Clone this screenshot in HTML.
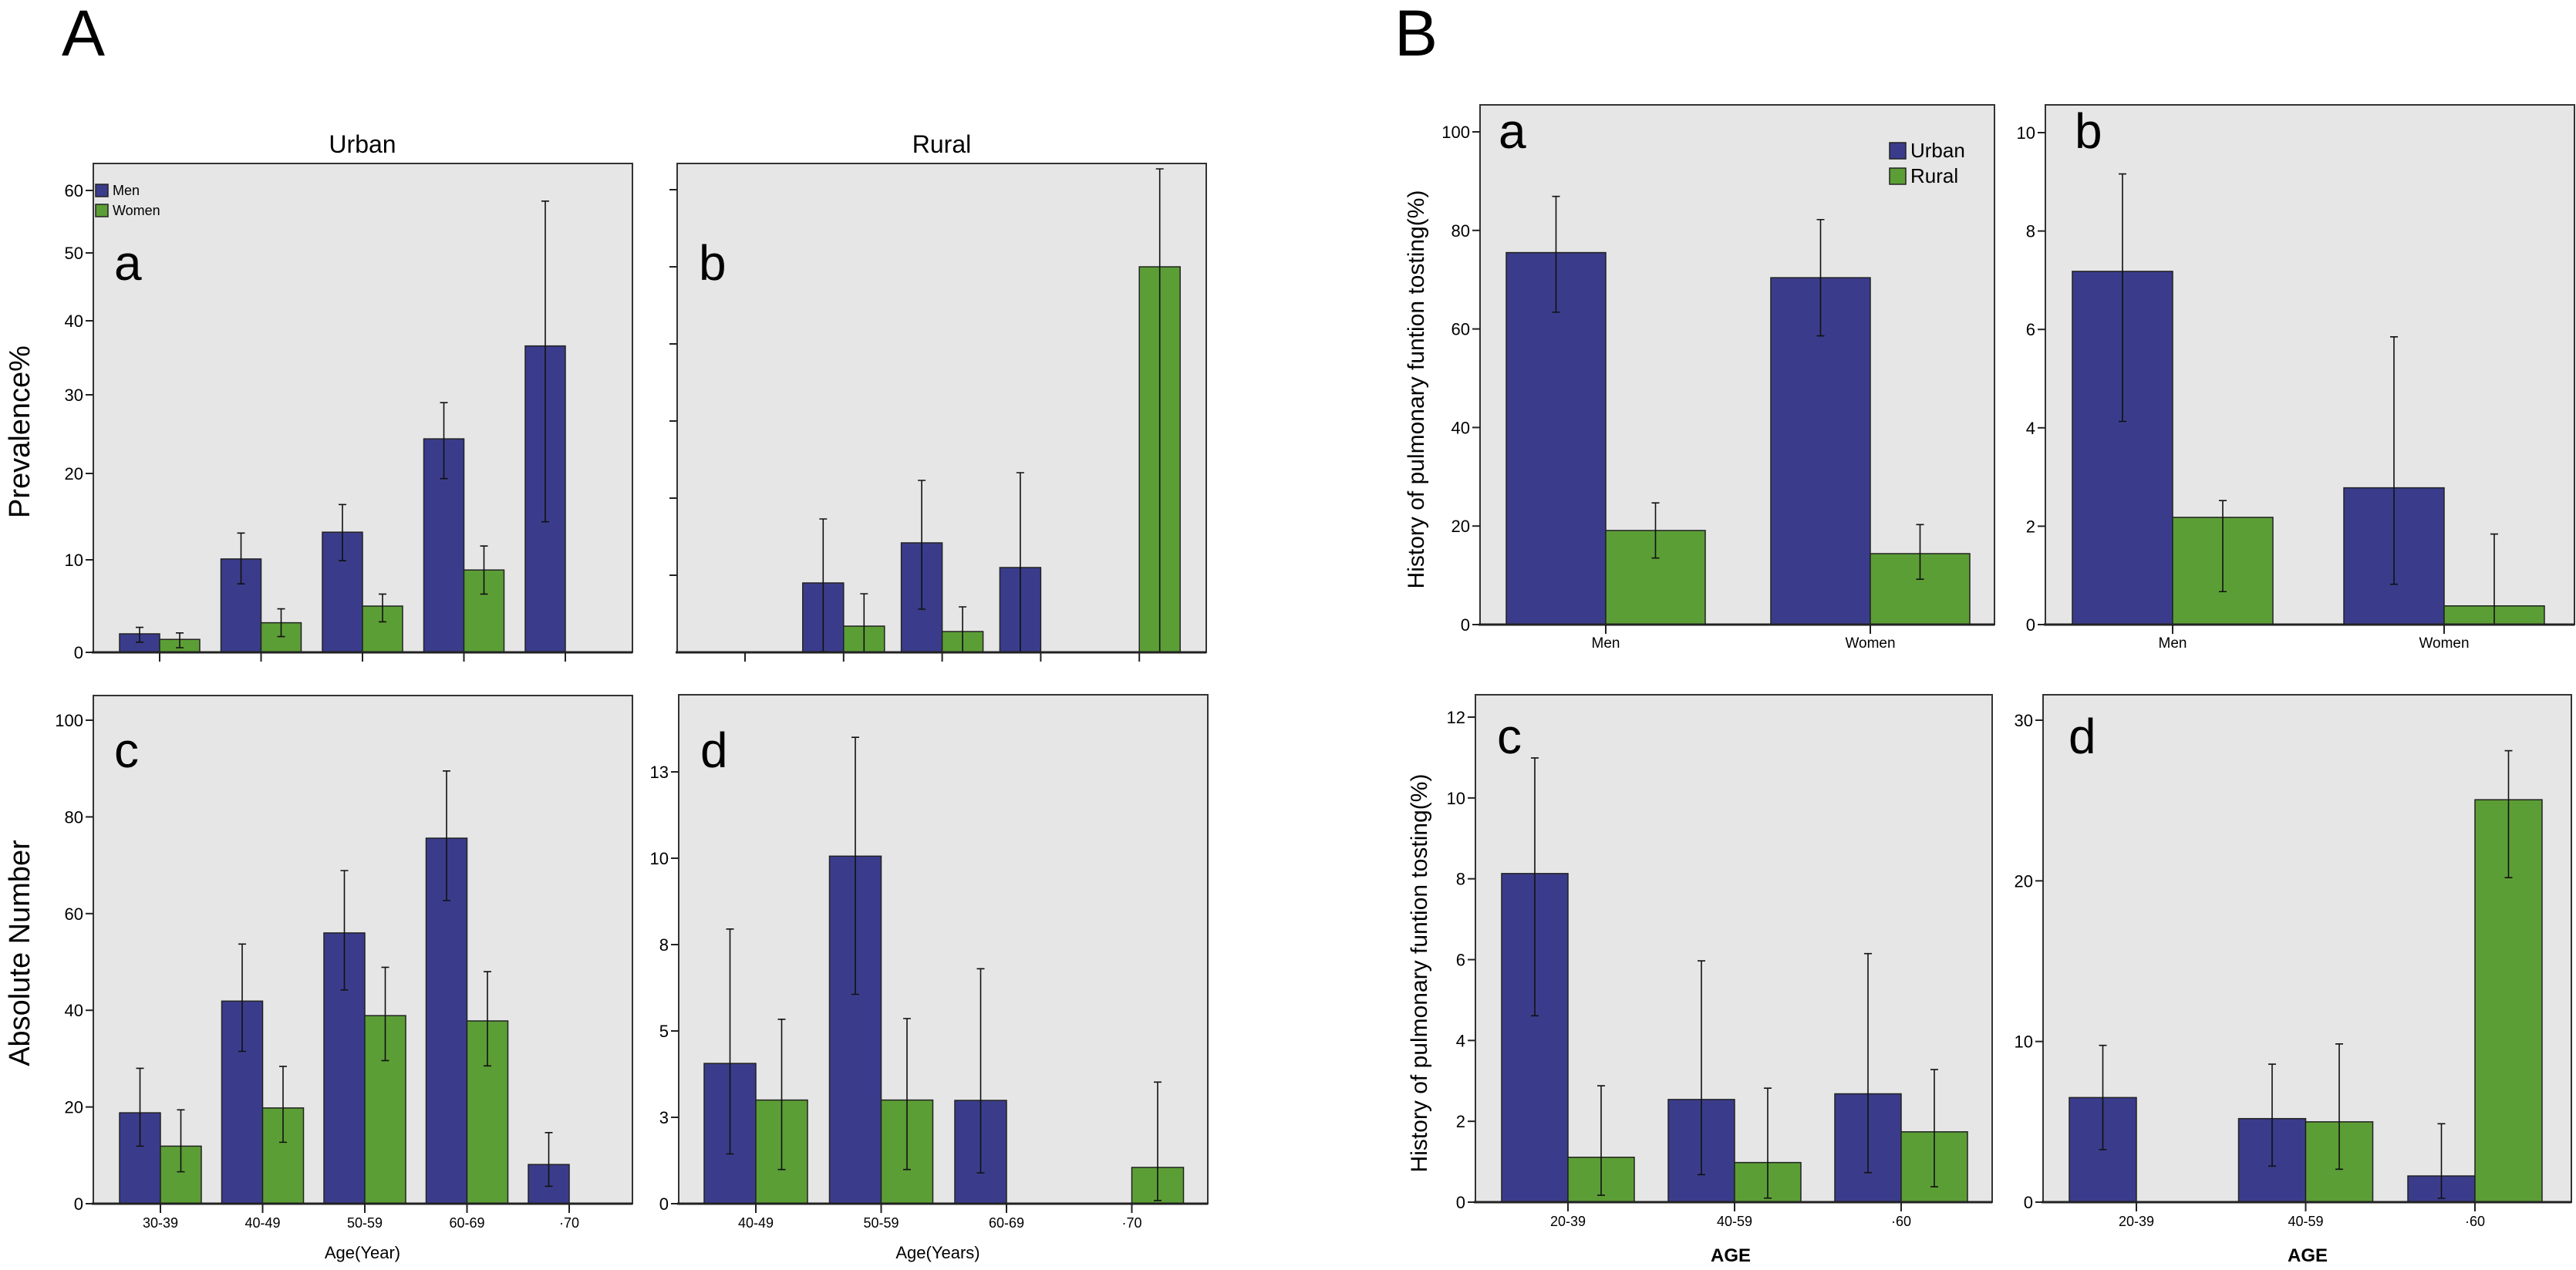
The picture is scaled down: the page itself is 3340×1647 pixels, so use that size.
<!DOCTYPE html>
<html><head><meta charset="utf-8">
<style>
html,body{margin:0;padding:0;background:#fff;}
svg{display:block;font-family:"Liberation Sans",Arial,sans-serif;}
</style></head>
<body>
<svg id="fig" width="3340" height="1647" viewBox="0 0 3340 1647" xmlns="http://www.w3.org/2000/svg">
<rect x="0" y="0" width="3340" height="1647" fill="#fff"/>
<text x="80" y="72" font-size="84">A</text>
<text x="1808" y="72" font-size="84">B</text>
<text x="470" y="198" font-size="32" text-anchor="middle">Urban</text>
<text x="1221" y="198" font-size="32" text-anchor="middle">Rural</text>
<text transform="translate(38,560) rotate(-90)" font-size="38" text-anchor="middle">Prevalence%</text>
<text transform="translate(38,1236) rotate(-90)" font-size="38" text-anchor="middle">Absolute Number</text>
<text transform="translate(1846,505) rotate(-90)" font-size="30" text-anchor="middle">History of pulmonary funtion tosting(%)</text>
<text transform="translate(1850,1262) rotate(-90)" font-size="30" text-anchor="middle">History of pulmonary funtion tosting(%)</text>
<text x="470" y="1632" font-size="22" text-anchor="middle">Age(Year)</text>
<text x="1216" y="1632" font-size="22" text-anchor="middle">Age(Years)</text>
<text x="2244" y="1636" font-size="24" font-weight="bold" text-anchor="middle">AGE</text>
<text x="2992" y="1636" font-size="24" font-weight="bold" text-anchor="middle">AGE</text>
</svg>
<script>
// ---- Panel A-a (Urban prevalence) ----
const aaCats = ["30-39","40-49","50-59","60-69","·70"];
const aaTicks = [0,10,20,30,40,50,60];
const aaTickLabels = ["0","10","20","30","40","50","60"];
const aaMen = [2.0,10.1,13.2,24.4,36.6];
const aaMenLo = [1.1,7.4,9.9,19.4,14.4];
const aaMenHi = [2.7,13.1,16.4,29.0,58.3];
const aaWomen = [1.4,3.2,5.0,8.9,null];
const aaWomenLo = [0.5,1.7,3.3,6.3,null];
const aaWomenHi = [2.1,4.7,6.3,11.6,null];
// ---- Panel A-b (Rural prevalence) ----
const abCats = ["30-39","40-49","50-59","60-69","·70"];
const abTicks = [10,20,30,40,50,60];
const abMen = [null,9.0,14.2,11.0,null];
const abMenLo = [null,0.1,5.6,0,null];
const abMenHi = [null,17.3,22.3,23.3,null];
const abWomen = [null,3.4,2.7,null,50.0];
const abWomenLo = [null,0,0,null,0];
const abWomenHi = [null,7.6,5.9,null,62.7];
// ---- Panel A-c (Urban absolute) ----
const acCats = ["30-39","40-49","50-59","60-69","·70"];
const acTicks = [0,20,40,60,80,100];
const acMen = [18.8,41.9,56,75.6,8.1];
const acMenLo = [11.9,31.5,44.2,62.7,3.6];
const acMenHi = [28,53.7,68.9,89.5,14.7];
const acWomen = [11.9,19.8,38.9,37.8,null];
const acWomenLo = [6.6,12.7,29.6,28.5,null];
const acWomenHi = [19.4,28.4,48.9,48,null];
// ---- Panel A-d (Rural absolute) ----
const adCats = ["40-49","50-59","60-69","·70"];
const adTicks = [0,2.5,5,7.5,10,12.5];
const adTickLabels = ["0","3","5","8","10","13"];
const adMen = [4.06,10.06,2.99,null];
const adMenLo = [1.44,6.06,0.89,null];
const adMenHi = [7.95,13.5,6.8,null];
const adWomen = [3.0,3.0,null,1.05];
const adWomenLo = [0.99,0.99,null,0.09];
const adWomenHi = [5.34,5.36,null,3.52];
// ---- Panel B-a ----
const baCats = ["Men","Women"];
const baTicks = [0,20,40,60,80,100];
const baUrban = [75.5,70.4];
const baUrbanLo = [63.4,58.6];
const baUrbanHi = [86.9,82.2];
const baRural = [19.1,14.4];
const baRuralLo = [13.5,9.2];
const baRuralHi = [24.7,20.3];
// ---- Panel B-b ----
const bbCats = ["Men","Women"];
const bbTicks = [0,2,4,6,8,10];
const bbUrban = [7.18,2.78];
const bbUrbanLo = [4.13,0.82];
const bbUrbanHi = [9.16,5.85];
const bbRural = [2.18,0.38];
const bbRuralLo = [0.67,0];
const bbRuralHi = [2.52,1.84];
// ---- Panel B-c ----
const bcCats = ["20-39","40-59","·60"];
const bcTicks = [0,2,4,6,8,10,12];
const bcUrban = [8.13,2.54,2.68];
const bcUrbanLo = [4.61,0.68,0.73];
const bcUrbanHi = [10.99,5.97,6.15];
const bcRural = [1.11,0.98,1.74];
const bcRuralLo = [0.17,0.1,0.38];
const bcRuralHi = [2.88,2.82,3.28];
// ---- Panel B-d ----
const bdCats = ["20-39","40-59","·60"];
const bdTicks = [0,10,20,30];
const bdUrban = [6.51,5.2,1.63];
const bdUrbanLo = [3.27,2.24,0.24];
const bdUrbanHi = [9.76,8.59,4.88];
const bdRural = [null,5.0,25.05];
const bdRuralLo = [null,2.05,20.2];
const bdRuralHi = [null,9.85,28.1];

const NS = "http://www.w3.org/2000/svg";
const svg = document.getElementById("fig");
const BLUE = "#3a3c8b", GREEN = "#5c9e36";
function mk(tag, attrs, parent){
  const e = document.createElementNS(NS, tag);
  for (const k in attrs) e.setAttribute(k, attrs[k]);
  (parent||svg).appendChild(e);
  return e;
}
// piecewise-linear scale for A-a (axis is non-uniform in reference)
const aaTickPx = [846,726,614,512,416,328,247];
function yAa(v){
  for (let i=0;i<aaTicks.length-1;i++){
    if (v<=aaTicks[i+1]) return aaTickPx[i] + (v-aaTicks[i])/(aaTicks[i+1]-aaTicks[i])*(aaTickPx[i+1]-aaTickPx[i]);
  }
  const n=aaTicks.length-1;
  return aaTickPx[n] + (v-aaTicks[n])/(aaTicks[n]-aaTicks[n-1])*(aaTickPx[n]-aaTickPx[n-1]);
}
function linY(y0, v0, y1, v1){ return v => y0 + (v - v0)/(v1 - v0)*(y1 - y0); }

function panel(p){
  const g = mk("g", {});
  
  
  const bg = mk("rect", {x:p.x0, y:p.top, width:p.x1-p.x0, height:p.bottom-p.top, fill:"#e6e6e6", stroke:"#333", "stroke-width":2}, g);
  
  
  p.ticks.forEach((t,i)=>{
    const y = p.y(t);
    const tk = mk("line", {x1:p.x0-10, x2:p.x0, y1:y, y2:y, stroke:"#222", "stroke-width":2}, g);
    
    
    if (p.tickLabels){
      const tl = mk("text", {x:p.x0-13, y:y+8, "font-size":22, "text-anchor":"end"}, g);
      
      
      tl.textContent = p.tickLabels[i];
    }
  });
  p.cats.forEach((c,i)=>{
    const cx = p.cx0 + i*p.step;
    const tk = mk("line", {x1:cx, x2:cx, y1:p.bottom, y2:p.bottom+12, stroke:"#222", "stroke-width":2}, g);
    
    
    if (p.showX){
      const tl = mk("text", {x:cx, y:p.bottom+p.xlabOff, "font-size":p.xfs, "text-anchor":"middle"}, g);
      
      
      tl.textContent = c;
    }
    [[p.s1,p.s1Lo,p.s1Hi,BLUE,-1,p.n1],[p.s2,p.s2Lo,p.s2Hi,GREEN,0,p.n2]].forEach(s=>{
      const v = s[0][i];
      if (v===null || v===undefined) return;
      const bx = cx + s[4]*p.bw;
      const yt = p.y(v);
      const r = mk("rect", {x:bx, y:yt, width:p.bw, height:p.bottom-yt, fill:s[3], stroke:"#222", "stroke-width":1.5}, g);
      
      
      const ex = bx + p.bw/2;
      const ylo = p.y(s[1][i]), yhi = p.y(s[2][i]);
      const eb = mk("path", {d:`M${ex},${ylo}V${yhi}M${ex-5},${ylo}H${ex+5}M${ex-5},${yhi}H${ex+5}`, stroke:"#111", "stroke-width":1.6, fill:"none"}, g);
      
      
    });
  });
  mk("line", {x1:p.x0-2, x2:p.x1, y1:p.bottom, y2:p.bottom, stroke:"#222", "stroke-width":3}, g);
  const lt = mk("text", {x:p.lx, y:p.ly, "font-size":64}, g);
  
  
  lt.textContent = p.letter;
}

panel({name:"panel-a-urban-prevalence", x0:121, x1:820, top:212, bottom:846, y:yAa, ticks:aaTicks, tickLabels:aaTickLabels,
  cats:aaCats, cx0:207, step:131.5, bw:52, showX:false, s1:aaMen,s1Lo:aaMenLo,s1Hi:aaMenHi,n1:"men", s2:aaWomen,s2Lo:aaWomenLo,s2Hi:aaWomenHi,n2:"women", letter:"a", lx:148, ly:363});
panel({name:"panel-b-rural-prevalence", x0:878, x1:1564, top:212, bottom:846, y:linY(846,0,746,10), ticks:abTicks, tickLabels:null,
  cats:abCats, cx0:966, step:127.8, bw:53, showX:false, s1:abMen,s1Lo:abMenLo,s1Hi:abMenHi,n1:"men", s2:abWomen,s2Lo:abWomenLo,s2Hi:abWomenHi,n2:"women", letter:"b", lx:906, ly:363});
panel({name:"panel-c-urban-absolute", x0:121, x1:820, top:902, bottom:1561, y:linY(1561,0,934,100), ticks:acTicks, tickLabels:acTicks.map(String),
  cats:acCats, cx0:208, step:132.5, bw:53, showX:true, xlabOff:31, xfs:18, s1:acMen,s1Lo:acMenLo,s1Hi:acMenHi,n1:"men", s2:acWomen,s2Lo:acWomenLo,s2Hi:acWomenHi,n2:"women", letter:"c", lx:148, ly:995});
panel({name:"panel-d-rural-absolute", x0:880, x1:1566, top:901, bottom:1561, y:linY(1561,0,1001,12.5), ticks:adTicks, tickLabels:adTickLabels,
  cats:adCats, cx0:980, step:162.5, bw:67, showX:true, xlabOff:31, xfs:18, s1:adMen,s1Lo:adMenLo,s1Hi:adMenHi,n1:"men", s2:adWomen,s2Lo:adWomenLo,s2Hi:adWomenHi,n2:"women", letter:"d", lx:908, ly:995});
panel({name:"panel-b-a", x0:1919, x1:2586, top:136, bottom:810, y:linY(810,0,171,100), ticks:baTicks, tickLabels:baTicks.map(String),
  cats:baCats, cx0:2082, step:343, bw:129, showX:true, xlabOff:30, xfs:19, s1:baUrban,s1Lo:baUrbanLo,s1Hi:baUrbanHi,n1:"urban", s2:baRural,s2Lo:baRuralLo,s2Hi:baRuralHi,n2:"rural", letter:"a", lx:1943, ly:192});
panel({name:"panel-b-b", x0:2652, x1:3338, top:136, bottom:810, y:linY(810,0,172,10), ticks:bbTicks, tickLabels:bbTicks.map(String),
  cats:bbCats, cx0:2817, step:352, bw:130, showX:true, xlabOff:30, xfs:19, s1:bbUrban,s1Lo:bbUrbanLo,s1Hi:bbUrbanHi,n1:"urban", s2:bbRural,s2Lo:bbRuralLo,s2Hi:bbRuralHi,n2:"rural", letter:"b", lx:2690, ly:192});
panel({name:"panel-b-c", x0:1913, x1:2583, top:901, bottom:1559, y:linY(1559,0,930,12), ticks:bcTicks, tickLabels:bcTicks.map(String),
  cats:bcCats, cx0:2033, step:216, bw:86, showX:true, xlabOff:31, xfs:18, s1:bcUrban,s1Lo:bcUrbanLo,s1Hi:bcUrbanHi,n1:"urban", s2:bcRural,s2Lo:bcRuralLo,s2Hi:bcRuralHi,n2:"rural", letter:"c", lx:1941, ly:977});
panel({name:"panel-b-d", x0:2649, x1:3334, top:901, bottom:1559, y:linY(1559,0,934,30), ticks:bdTicks, tickLabels:bdTicks.map(String),
  cats:bdCats, cx0:2770, step:219.5, bw:87, showX:true, xlabOff:31, xfs:18, s1:bdUrban,s1Lo:bdUrbanLo,s1Hi:bdUrbanHi,n1:"urban", s2:bdRural,s2Lo:bdRuralLo,s2Hi:bdRuralHi,n2:"rural", letter:"d", lx:2682, ly:977});

function legend(items, x, y, sz, gap, fs, name){
  const g = mk("g", {});
  
  
  items.forEach((it,i)=>{
    const r = mk("rect", {x:x, y:y+i*gap, width:sz, height:sz, fill:it[1], stroke:"#222", "stroke-width":1.5}, g);
    
    
    const t = mk("text", {x:x+sz+6, y:y+i*gap+sz-2, "font-size":fs}, g);
    
    
    t.textContent = it[0];
  });
}
legend([["Men",BLUE],["Women",GREEN]], 124, 239, 16, 26, 18, "legend-a");
legend([["Urban",BLUE],["Rural",GREEN]], 2450, 185, 21, 33, 26, "legend-b");
</script>
</body></html>
